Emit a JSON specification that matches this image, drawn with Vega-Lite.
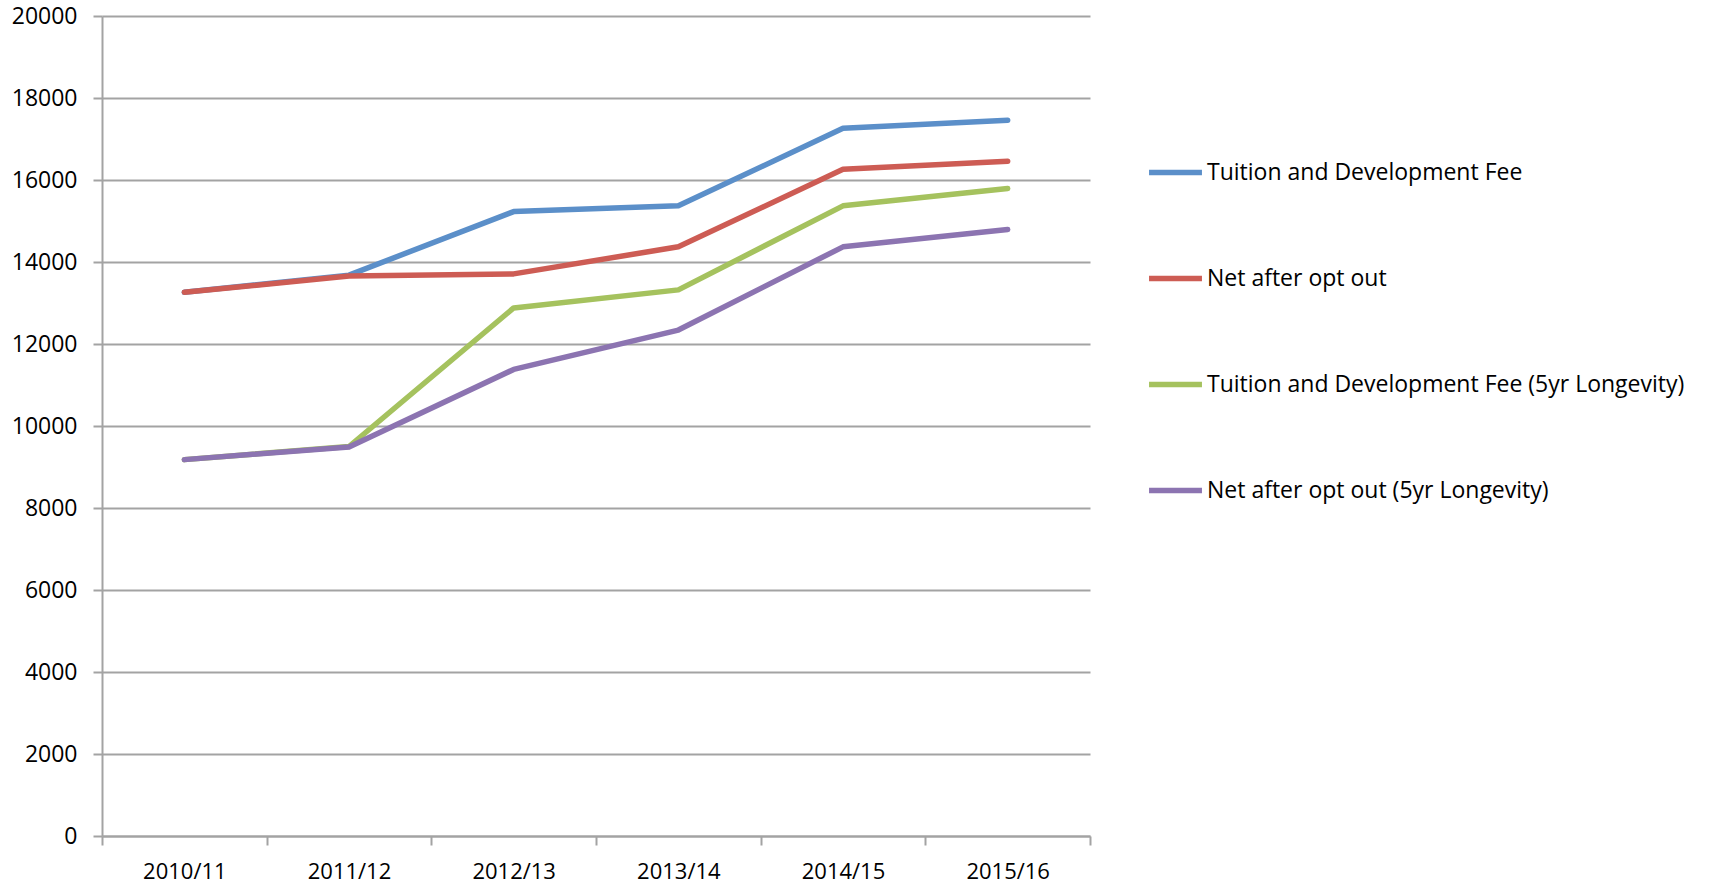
{
  "$schema": "https://vega.github.io/schema/vega-lite/v6.json",
  "width": 988,
  "height": 820,
  "autosize": "none",
  "padding": {"left": 102, "top": 16, "right": 623, "bottom": 51},
  "background": "white",
  "config": {"view": {"stroke": null}, "font": "Open Sans"},
  "data": {
    "values": [
      {"year": "2010/11", "series": "Tuition and Development Fee", "value": 13260},
      {"year": "2011/12", "series": "Tuition and Development Fee", "value": 13680},
      {"year": "2012/13", "series": "Tuition and Development Fee", "value": 15230},
      {"year": "2013/14", "series": "Tuition and Development Fee", "value": 15370},
      {"year": "2014/15", "series": "Tuition and Development Fee", "value": 17260},
      {"year": "2015/16", "series": "Tuition and Development Fee", "value": 17460},
      {"year": "2010/11", "series": "Net after opt out", "value": 13260},
      {"year": "2011/12", "series": "Net after opt out", "value": 13660},
      {"year": "2012/13", "series": "Net after opt out", "value": 13710},
      {"year": "2013/14", "series": "Net after opt out", "value": 14370},
      {"year": "2014/15", "series": "Net after opt out", "value": 16260},
      {"year": "2015/16", "series": "Net after opt out", "value": 16460},
      {"year": "2010/11", "series": "Tuition and Development Fee (5yr Longevity)", "value": 9180},
      {"year": "2011/12", "series": "Tuition and Development Fee (5yr Longevity)", "value": 9500},
      {"year": "2012/13", "series": "Tuition and Development Fee (5yr Longevity)", "value": 12880},
      {"year": "2013/14", "series": "Tuition and Development Fee (5yr Longevity)", "value": 13320},
      {"year": "2014/15", "series": "Tuition and Development Fee (5yr Longevity)", "value": 15370},
      {"year": "2015/16", "series": "Tuition and Development Fee (5yr Longevity)", "value": 15790},
      {"year": "2010/11", "series": "Net after opt out (5yr Longevity)", "value": 9180},
      {"year": "2011/12", "series": "Net after opt out (5yr Longevity)", "value": 9490},
      {"year": "2012/13", "series": "Net after opt out (5yr Longevity)", "value": 11380},
      {"year": "2013/14", "series": "Net after opt out (5yr Longevity)", "value": 12340},
      {"year": "2014/15", "series": "Net after opt out (5yr Longevity)", "value": 14370},
      {"year": "2015/16", "series": "Net after opt out (5yr Longevity)", "value": 14790}
    ]
  },
  "mark": {"type": "line", "strokeWidth": 5.5, "strokeCap": "round", "strokeJoin": "round"},
  "encoding": {
    "x": {
      "field": "year",
      "type": "ordinal",
      "bandPosition": 0.5,
      "scale": {"type": "band", "paddingInner": 0, "paddingOuter": 0},
      "axis": {
        "title": null,
        "labelAngle": 0,
        "labelFontSize": 22,
        "labelColor": "black",
        "labelPadding": 16,
        "labelDx": -9,
        "tickBand": "extent",
        "tickSize": 9,
        "tickWidth": 2,
        "tickColor": "#a3a3a3",
        "domainColor": "#a3a3a3",
        "domainWidth": 2,
        "grid": false
      }
    },
    "y": {
      "field": "value",
      "type": "quantitative",
      "scale": {"domain": [0, 20000], "nice": false},
      "axis": {
        "title": null,
        "values": [0, 2000, 4000, 6000, 8000, 10000, 12000, 14000, 16000, 18000, 20000],
        "format": "d",
        "labelFontSize": 23,
        "labelColor": "black",
        "labelPadding": 16,
        "tickSize": 9,
        "tickWidth": 2,
        "tickColor": "#a3a3a3",
        "domainColor": "#a3a3a3",
        "domainWidth": 2,
        "grid": true,
        "gridColor": "#a3a3a3",
        "gridWidth": 2
      }
    },
    "color": {
      "field": "series",
      "type": "nominal",
      "sort": null,
      "scale": {
        "domain": ["Tuition and Development Fee", "Net after opt out", "Tuition and Development Fee (5yr Longevity)", "Net after opt out (5yr Longevity)"],
        "range": ["#5B8FC9", "#CD5C54", "#A5C25E", "#8C74B1"]
      },
      "legend": {
        "title": null,
        "orient": "none",
        "legendX": 1044,
        "legendY": 127,
        "symbolType": "stroke",
        "symbolSize": 2800,
        "symbolStrokeWidth": 5.5,
        "labelFontSize": 23,
        "labelColor": "black",
        "labelLimit": 700,
        "labelOffset": 2,
        "rowPadding": 64
      }
    }
  }
}
